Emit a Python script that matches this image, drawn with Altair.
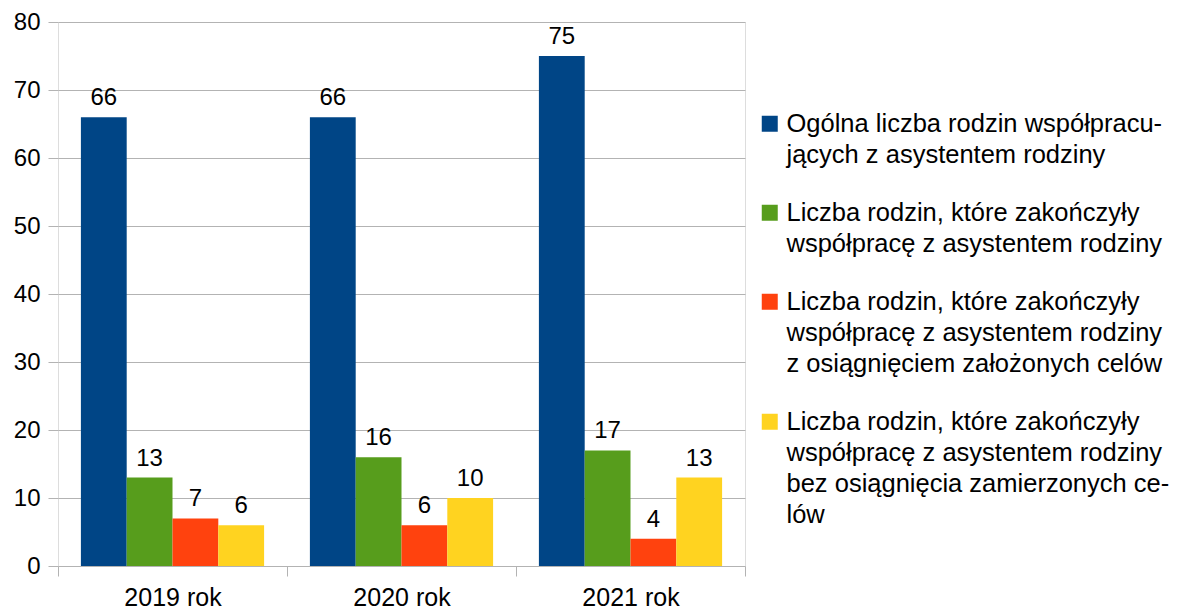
import altair as alt
import pandas as pd

years = ["2019 rok", "2020 rok", "2021 rok"]
series = [
    "Ogólna liczba rodzin współpracu-|jących z asystentem rodziny",
    "Liczba rodzin, które zakończyły|współpracę z asystentem rodziny",
    "Liczba rodzin, które zakończyły|współpracę z asystentem rodziny|z osiągnięciem założonych celów",
    "Liczba rodzin, które zakończyły|współpracę z asystentem rodziny|bez osiągnięcia zamierzonych ce-|lów",
]
values_total = [66, 66, 75]
values_ended = [13, 16, 17]
values_goal = [7, 6, 4]
values_nogoal = [6, 10, 13]
colors = ["#004586", "#579D1C", "#FF420E", "#FFD320"]
y_ticks = [0, 10, 20, 30, 40, 50, 60, 70, 80]

rows = []
for s, vals in zip(series, [values_total, values_ended, values_goal, values_nogoal]):
    for yr, v in zip(years, vals):
        rows.append({"year": yr, "series": s, "value": v})
df = pd.DataFrame(rows)

FONT = "Liberation Sans"
GRID = "#b3b3b3"

base = alt.Chart(df).encode(
    x=alt.X(
        "year:N",
        sort=years,
        scale=alt.Scale(paddingInner=0, paddingOuter=0),
        axis=alt.Axis(
            title=None,
            labelAngle=0,
            tickBand="extent",
            grid=False,
            domain=False,
            ticks=True,
            tickSize=10,
            tickColor=GRID,
            labelFontSize=25,
            labelFont=FONT,
            labelColor="black",
            labelPadding=9,
        ),
    ),
    xOffset=alt.XOffset(
        "series:N", sort=series, scale=alt.Scale(paddingInner=0, paddingOuter=0.5)
    ),
    y=alt.Y(
        "value:Q",
        scale=alt.Scale(domain=[0, 80], nice=False),
        axis=alt.Axis(
            title=None,
            values=y_ticks,
            grid=True,
            gridColor=GRID,
            domain=False,
            tickSize=10,
            tickColor=GRID,
            labelFontSize=24,
            labelFont=FONT,
            labelColor="black",
            labelPadding=8,
        ),
    ),
)

bars = base.mark_bar().encode(
    color=alt.Color(
        "series:N",
        sort=series,
        scale=alt.Scale(domain=series, range=colors),
        legend=alt.Legend(
            title=None,
            orient="none",
            legendX=699,
            legendY=89,
            symbolType="square",
            symbolSize=256,
            symbolStrokeWidth=0,
            labelFontSize=25.5,
            labelFont=FONT,
            labelColor="black",
            labelLimit=1000,
            labelOffset=4,
            rowPadding=31,
            labelExpr="split(datum.label, '|')",
        ),
    )
)

labels = base.mark_text(
    baseline="alphabetic", dy=-12, fontSize=24, font=FONT, color="black"
).encode(text="value:Q")

chart = (
    alt.layer(bars, labels)
    .properties(
        width=687,
        height=544,
        autosize=alt.AutoSizeParams(type="none"),
        padding={"left": 50, "top": 14, "right": 430, "bottom": 43},
    )
    .configure_view(stroke=GRID, strokeWidth=1)
    .configure(style={"guide-label": {"lineHeight": 31}})
)

chart.save("out.html", embed_options={"renderer": "svg", "actions": False})
